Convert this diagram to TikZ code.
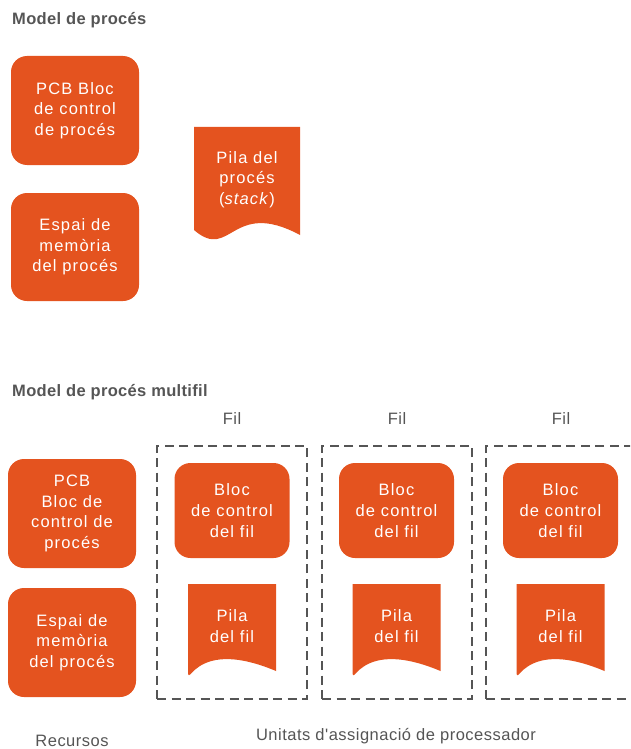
\documentclass[tikz,border=0pt]{standalone}
\usepackage{fontspec}
\setmainfont{Liberation Sans}
\newfontfamily\boxfont[LetterSpace=7]{Liberation Sans}
\newfontfamily\headfont[LetterSpace=2]{Liberation Sans}
\newfontfamily\captionfont[LetterSpace=3]{Liberation Sans}
\definecolor{procorange}{HTML}{E4531F}
\definecolor{inkgray}{HTML}{555555}

% stack shape with a wavy lower edge: name, left x, top y, right x, bottom-left y, text
\newcommand\pilashape[6]{%
  \fill[procorange] (#2,#3) -- (#4,#3) -- (#4,{#5+5})
    .. controls ({#2+0.35*(#4-#2)},{#5-32}) and ({#2+0.35*(#4-#2)},{#5+32}) .. (#2,#5) -- cycle;
  \node[boxtext] (#1) at ({(#2+#4)/2},{(#3+#5)/2+1}) {#6};
}

\begin{document}
\begin{tikzpicture}[x=1pt,y=-1pt,
  boxtext/.style={text=white, align=center, inner sep=0pt,
    font=\boxfont\fontsize{16.5}{20.7}\selectfont},
  roundbox/.style={boxtext, fill=procorange, rounded corners=16pt},
  heading/.style={text=inkgray, inner sep=0pt, anchor=base west,
    font=\headfont\bfseries\fontsize{16.5}{19}\selectfont},
  caption/.style={text=inkgray, inner sep=0pt, anchor=base,
    font=\captionfont\fontsize{16.5}{19}\selectfont},
  threadframe/.style={draw=inkgray, line width=2pt, dash pattern=on 9pt off 5.5pt,
    minimum width=150, minimum height=253, inner sep=0pt},
]
\useasboundingbox (0,0) rectangle (630,749);
\clip (0,0) rectangle (630,749);

% ---- single-threaded process model ----
\node[heading] (head1) at (12,24.5) {Model de procés};
\node[roundbox, minimum width=128, minimum height=109] (pcb1) at (75,110.5)
  {PCB Bloc\\de control\\de procés};
\node[roundbox, minimum width=128, minimum height=108] (mem1) at (75,247)
  {Espai de\\memòria\\del procés};
\pilashape{stack1}{194}{127}{300}{230}{Pila del\\procés\\(\textit{stack})}

% ---- multithreaded process model ----
\node[heading] (head2) at (12,396) {Model de procés multifil};

\node[roundbox, minimum width=128, minimum height=109] (pcb2) at (72,513.5)
  {PCB\\Bloc de\\control de\\procés};
\node[roundbox, minimum width=128, minimum height=109] (mem2) at (72,642.5)
  {Espai de\\memòria\\del procés};

\foreach \i/\cx/\fx in {1/232/157, 2/396.5/322, 3/560.5/486} {
  \node[threadframe] (frame\i) at ({\fx+75},572) {};
  \node[caption] (fil\i) at ({\fx+75},424) {Fil};
  \node[roundbox, minimum width=115, minimum height=95] (tcb\i) at (\cx,510.5)
    {Bloc\\de control\\del fil};
  \pilashape{tstack\i}{\cx-44}{584}{\cx+44}{666}{Pila\\del fil}
}

\node[caption] (res) at (72,746) {Recursos};
\node[caption] (units) at (396,740) {Unitats d'assignació de processador};
\end{tikzpicture}
\end{document}
